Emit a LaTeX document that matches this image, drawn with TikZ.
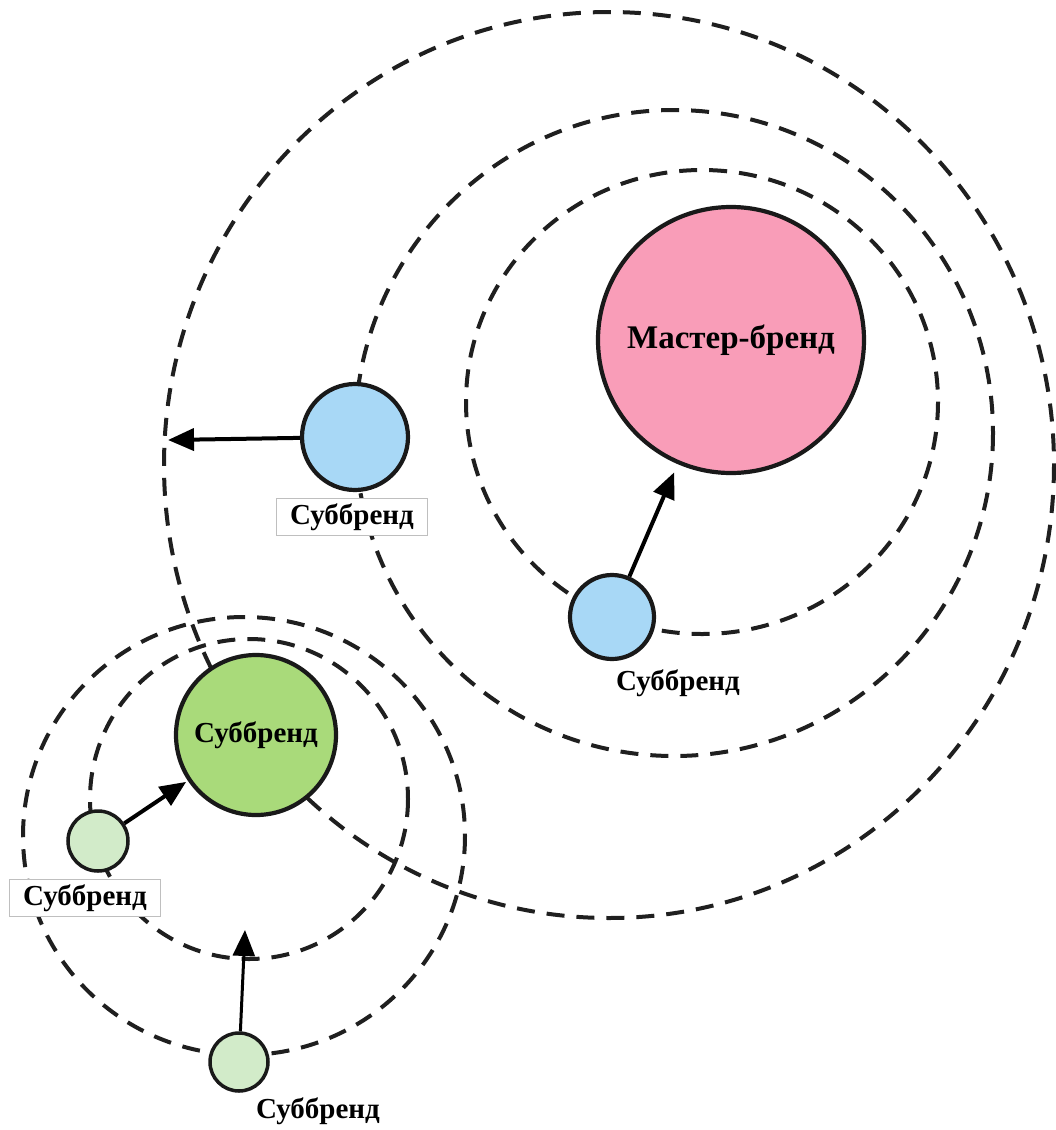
\documentclass[tikz,border=0pt]{standalone}
\usepackage{fontspec}
\setmainfont{Liberation Serif}
\usetikzlibrary{arrows.meta}
\definecolor{pinkm}{HTML}{F99DB8}
\definecolor{bluesb}{HTML}{A8D8F6}
\definecolor{greensb}{HTML}{A9DA7A}
\definecolor{lgreen}{HTML}{D2EBC9}
\tikzset{
  orbit/.style={draw=black!88, line width=4pt, dash pattern=on 18pt off 12pt},
  planet/.style={circle, draw=black!90, line width=4.2pt, inner sep=0pt, font=\bfseries\fontsize{29}{31}\selectfont},
  tag/.style={font=\bfseries\fontsize{29}{31}\selectfont, inner sep=1pt},
  tagbox/.style={tag, fill=white, draw=black!25, line width=0.8pt, minimum width=151pt, minimum height=37pt},
  arr/.style={line width=4pt, -{Triangle[length=26pt,width=22pt]}},
}
\begin{document}
\begin{tikzpicture}[x=1pt,y=-1pt]
\useasboundingbox (0,0) rectangle (1056,1130);
% orbits
\draw[orbit] (609,465) ellipse [x radius=445, y radius=453];
\draw[orbit] (674,433) ellipse [x radius=319, y radius=323];
\draw[orbit] (702,402) ellipse [x radius=236, y radius=232];
\draw[orbit] (244,836) ellipse [x radius=221, y radius=219];
\draw[orbit] (249,799) ellipse [x radius=159, y radius=160];
% planets
\node[planet, fill=pinkm, minimum size=266pt, font=\bfseries\fontsize{33}{36}\selectfont] (m) at (731,340) {Мастер-бренд};
\node[planet, fill=bluesb, minimum size=106pt] (b1) at (355,437) {};
\node[planet, fill=bluesb, minimum size=84pt] (b2) at (612,617) {};
\node[planet, fill=greensb, minimum size=160pt] (g) at (256,735) {Суббренд};
\node[planet, fill=lgreen, minimum size=60pt, line width=3.5pt] (l1) at (98,841) {};
\node[planet, fill=lgreen, minimum size=58pt, line width=3.5pt] (l2) at (239,1062) {};
% labels
\node[tagbox] (t1) at (352,517) {Суббренд};
\node[tag] (t2) at (678,683) {Суббренд};
\node[tagbox] (t3) at (85,898) {Суббренд};
\node[tag] (t4) at (318,1111) {Суббренд};
% arrows
\coordinate (e1) at (168,440);
\coordinate (e2) at (245,930);
\draw[arr] (b1) -- (e1);
\draw[arr, shorten >=9pt] (b2) -- (m);
\draw[arr, shorten >=2pt] (l1) -- (g);
\draw[arr, line width=3pt] (l2) -- (e2);
\end{tikzpicture}
\end{document}
